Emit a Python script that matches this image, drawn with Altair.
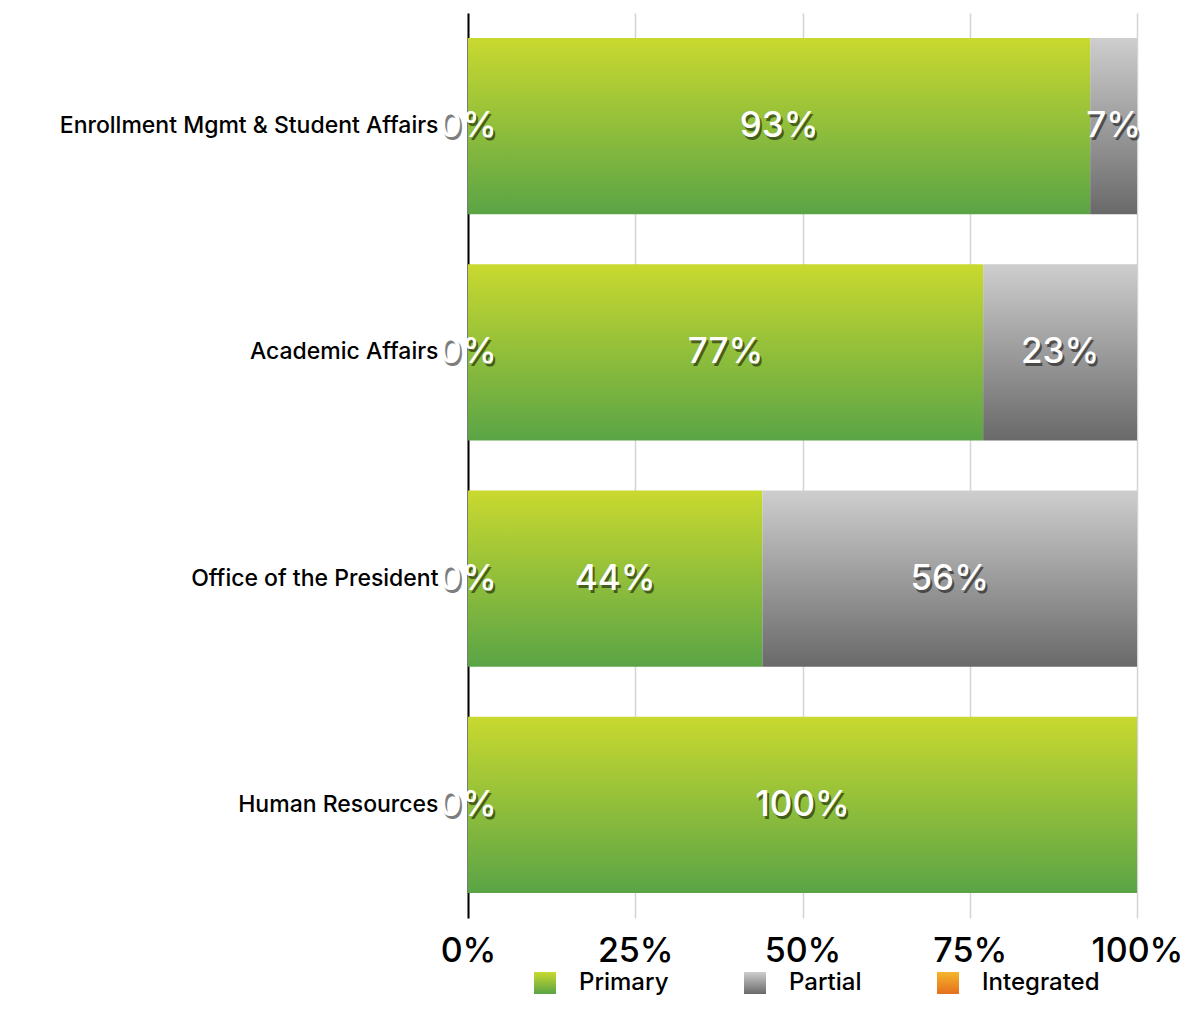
import altair as alt
import pandas as pd

categories = ["Enrollment Mgmt & Student Affairs", "Academic Affairs", "Office of the President", "Human Resources"]
series = ["Integrated", "Primary", "Partial"]
integrated = [0, 0, 0, 0]
primary = [93, 77, 44, 100]
partial = [7, 23, 56, 0]
x_ticks = [0, 25, 50, 75, 100]

rows = []
for i, c in enumerate(categories):
    for k, (s, vals) in enumerate(zip(series, [integrated, primary, partial])):
        rows.append({"category": c, "series": s, "value": vals[i], "order": k})
df = pd.DataFrame(rows)

FONT = "Inter"

def grad(top, bottom):
    return {"expr": "{gradient: 'linear', x1: 0, y1: 0, x2: 0, y2: 1, stops: [{offset: 0, color: '%s'}, {offset: 1, color: '%s'}]}" % (top, bottom)}

color_scale = alt.Scale(
    domain=["Primary", "Partial", "Integrated"],
    range=[grad("#c9d92f", "#5aa446"), grad("#cecece", "#696969"), grad("#f6b52a", "#e5701f")],
)

base = alt.Chart(df).transform_stack(
    stack="value", groupby=["category"], as_=["x0", "x1"], sort=[alt.SortField("order", "ascending")]
).transform_calculate(
    mid="(datum.x0 + datum.x1) / 2", label="datum.value + '%'"
)

y_enc = alt.Y(
    "category:N",
    sort=categories,
    title=None,
    scale=alt.Scale(paddingInner=0.22, paddingOuter=0.11),
    axis=alt.Axis(
        domain=True, domainColor="#000000", domainWidth=2, ticks=False,
        labelPadding=30, labelFontSize=23, labelColor="#000000", labelFont=FONT,
        labelFontWeight=500, grid=False, labelLimit=600,
    ),
)

bars = base.mark_bar().encode(
    x=alt.X(
        "x0:Q",
        scale=alt.Scale(domain=[0, 100], nice=False),
        title=None,
        axis=alt.Axis(
            values=x_ticks, labelExpr="datum.value + '%'", grid=True, gridColor="#d4d4d4",
            gridWidth=1.5, domain=False, ticks=False, labelFontSize=34, labelFont=FONT,
            labelColor="#000000", labelPadding=16, labelFontWeight=500, labelFlush=False,
        ),
    ),
    x2="x1:Q",
    y=y_enc,
    color=alt.Color(
        "series:N",
        scale=color_scale,
        legend=alt.Legend(
            title=None, orient="none", direction="horizontal", legendX=65, legendY=958,
            symbolType="square", symbolSize=484, symbolStrokeWidth=0, labelFontSize=24,
            labelFont=FONT, labelFontWeight=500, labelColor="#000000", labelOffset=22,
            columnPadding=74, symbolOpacity=1, padding=0,
        ),
    ),
)

label_filter = "datum.value > 0 || datum.series == 'Integrated'"

shadow = base.transform_filter(label_filter).mark_text(
    fontSize=35, font=FONT, fontWeight=500, color="#000000", opacity=0.5,
    dx=2, dy=3, baseline="middle", align="center",
).encode(x="mid:Q", y=alt.Y("category:N", sort=categories), text="label:N")

text = base.transform_filter(label_filter).mark_text(
    fontSize=35, font=FONT, fontWeight=500, color="#ffffff",
    baseline="middle", align="center",
).encode(x="mid:Q", y=alt.Y("category:N", sort=categories), text="label:N")

chart = alt.layer(bars, shadow, text).properties(
    width=669, height=905,
    autosize=alt.AutoSizeParams(type="none"),
    padding={"left": 460, "top": 5, "right": 46, "bottom": 82},
).configure_view(stroke=None)

chart.save("out.html", embed_options={"renderer": "svg", "actions": False})
